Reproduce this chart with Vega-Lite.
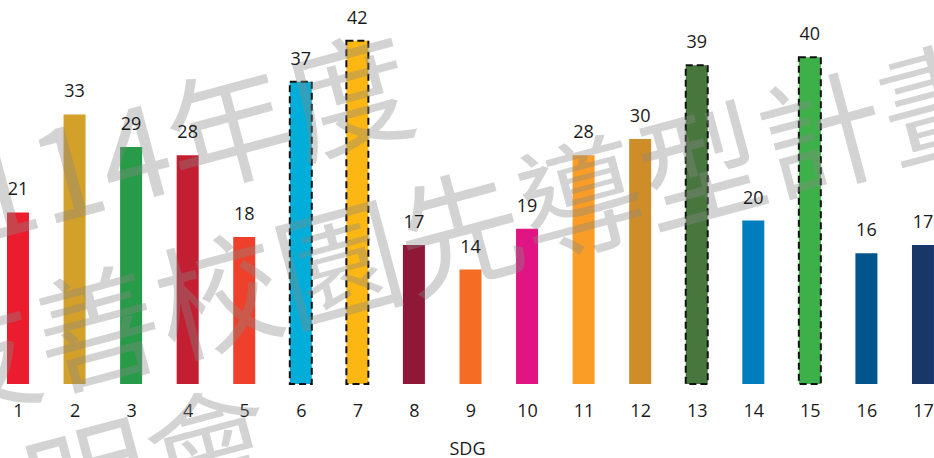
{
  "$schema": "https://vega.github.io/schema/vega-lite/v6.json",
  "width": 934,
  "height": 384,
  "autosize": {"type": "none"},
  "padding": {"left": 0, "right": 0, "top": 0, "bottom": 74},
  "background": "white",
  "config": {"view": {"stroke": null}, "font": "Open Sans"},
  "data": {
    "values": [
      {"sdg": 1, "count": 21},
      {"sdg": 2, "count": 33},
      {"sdg": 3, "count": 29},
      {"sdg": 4, "count": 28},
      {"sdg": 5, "count": 18},
      {"sdg": 6, "count": 37},
      {"sdg": 7, "count": 42},
      {"sdg": 8, "count": 17},
      {"sdg": 9, "count": 14},
      {"sdg": 10, "count": 19},
      {"sdg": 11, "count": 28},
      {"sdg": 12, "count": 30},
      {"sdg": 13, "count": 39},
      {"sdg": 14, "count": 20},
      {"sdg": 15, "count": 40},
      {"sdg": 16, "count": 16},
      {"sdg": 17, "count": 17}
    ]
  },
  "encoding": {
    "x": {
      "field": "sdg",
      "type": "quantitative",
      "scale": {"domain": [0.682, 17.195], "nice": false, "zero": false, "padding": 0},
      "axis": {
        "values": [1, 2, 3, 4, 5, 6, 7, 8, 9, 10, 11, 12, 13, 14, 15, 16, 17],
        "format": "d",
        "title": "SDG",
        "grid": false,
        "domain": false,
        "ticks": false,
        "labelFlush": false,
        "labelOverlap": false,
        "labelBound": false,
        "labelFont": "Open Sans",
        "labelFontSize": 18,
        "labelColor": "#1a1a1a",
        "labelPadding": 18,
        "titleFont": "Open Sans",
        "titleFontSize": 18,
        "titleFontWeight": "normal",
        "titleColor": "#1a1a1a",
        "titlePadding": 20
      }
    },
    "y": {
      "field": "count",
      "type": "quantitative",
      "scale": {"domain": [0, 47], "nice": false, "padding": 0},
      "axis": null
    }
  },
  "layer": [
    {
      "mark": {"type": "bar", "width": 22, "strokeWidth": 2, "strokeDash": [7, 4]},
      "encoding": {
        "color": {
          "field": "sdg",
          "type": "nominal",
          "scale": {
            "domain": [1, 2, 3, 4, 5, 6, 7, 8, 9, 10, 11, 12, 13, 14, 15, 16, 17],
            "range": ["#EB1C2D", "#D3A029", "#279B48", "#C31F33", "#EF402B", "#00AED9", "#FDB713", "#8F1838", "#F36D25", "#E11484", "#F99D26", "#CF8D2A", "#48773E", "#007DBC", "#3EB049", "#02558B", "#183668"]
          },
          "legend": null
        },
        "stroke": {
          "condition": {"test": "indexof([6, 7, 13, 15], datum.sdg) >= 0", "value": "#111111"},
          "value": null
        }
      }
    },
    {
      "data": {
        "values": [
          {"label": "114年度", "px": 4.05, "py": 28.9},
          {"label": "友善校園先導型計畫", "px": 8.85, "py": 17.6},
          {"label": "說明會", "px": 2.3, "py": -12.98}
        ]
      },
      "mark": {
        "type": "text",
        "font": "Noto Sans CJK TC",
        "fontSize": 125,
        "angle": 345,
        "align": "center",
        "baseline": "middle",
        "fill": "#888888",
        "opacity": 0.36
      },
      "encoding": {
        "x": {"field": "px", "type": "quantitative"},
        "y": {"field": "py", "type": "quantitative"},
        "text": {"field": "label"}
      }
    },
    {
      "mark": {
        "type": "text",
        "font": "Open Sans",
        "fontSize": 18,
        "baseline": "alphabetic",
        "dy": -17,
        "color": "#1a1a1a"
      },
      "encoding": {
        "text": {"field": "count", "type": "quantitative"}
      }
    }
  ]
}
